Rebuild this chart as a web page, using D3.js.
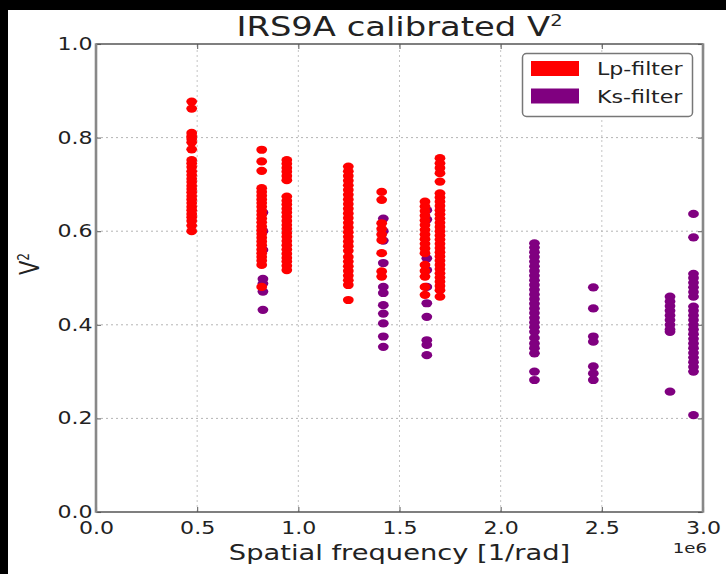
<!DOCTYPE html>
<html>
<head>
<meta charset="utf-8">
<script src="https://cdn.jsdelivr.net/npm/d3@7"></script>
<style>
  html, body { margin: 0; padding: 0; background: #fff; }
  svg { display: block; }
  text { font-family: "DejaVu Sans", sans-serif; fill: #222; }
</style>
</head>
<body>
<script>
// Baseline columns (spatial frequency in units of 1e6 rad^-1) and their V² samples.
const lpFreq = [0.473, 0.819, 0.943, 1.247, 1.412, 1.626, 1.70];
const lpV = [
  [0.877, 0.862, 0.810, 0.803, 0.797, 0.790, 0.775, 0.752, 0.745, 0.737, 0.728, 0.720, 0.712, 0.705, 0.697, 0.690, 0.683, 0.675, 0.668, 0.660, 0.652, 0.645, 0.637, 0.630, 0.622, 0.612, 0.600],
  [0.774, 0.749, 0.729, 0.692, 0.684, 0.676, 0.668, 0.660, 0.652, 0.643, 0.635, 0.627, 0.619, 0.610, 0.602, 0.594, 0.586, 0.578, 0.570, 0.561, 0.553, 0.545, 0.537, 0.528, 0.481],
  [0.752, 0.744, 0.735, 0.727, 0.718, 0.709, 0.674, 0.665, 0.657, 0.648, 0.640, 0.631, 0.622, 0.613, 0.605, 0.596, 0.588, 0.579, 0.570, 0.561, 0.552, 0.543, 0.535, 0.526, 0.517],
  [0.738, 0.728, 0.718, 0.708, 0.698, 0.688, 0.678, 0.668, 0.658, 0.648, 0.638, 0.628, 0.618, 0.608, 0.598, 0.588, 0.578, 0.568, 0.558, 0.545, 0.535, 0.525, 0.515, 0.505, 0.495, 0.485, 0.453],
  [0.684, 0.667, 0.617, 0.605, 0.593, 0.581, 0.553, 0.514, 0.503],
  [0.663, 0.653, 0.643, 0.633, 0.623, 0.613, 0.603, 0.593, 0.583, 0.573, 0.563, 0.553, 0.528, 0.515, 0.503, 0.481, 0.464],
  [0.756, 0.745, 0.735, 0.724, 0.706, 0.681, 0.672, 0.663, 0.654, 0.645, 0.636, 0.627, 0.618, 0.609, 0.600, 0.591, 0.582, 0.573, 0.564, 0.555, 0.546, 0.537, 0.528, 0.519, 0.510, 0.501, 0.492, 0.483, 0.474, 0.460]
];
const ksFreq = [0.825, 1.42, 1.635, 2.167, 2.458, 2.837, 2.953];
const ksV = [
  [0.640, 0.600, 0.560, 0.498, 0.488, 0.471, 0.432],
  [0.627, 0.600, 0.580, 0.532, 0.481, 0.468, 0.442, 0.424, 0.403, 0.375, 0.353],
  [0.645, 0.625, 0.542, 0.517, 0.481, 0.446, 0.417, 0.367, 0.357, 0.335],
  [0.574, 0.565, 0.555, 0.545, 0.535, 0.525, 0.515, 0.505, 0.495, 0.485, 0.475, 0.465, 0.455, 0.445, 0.435, 0.425, 0.415, 0.405, 0.395, 0.385, 0.372, 0.360, 0.350, 0.339, 0.300, 0.282],
  [0.480, 0.435, 0.375, 0.364, 0.311, 0.296, 0.282],
  [0.460, 0.450, 0.440, 0.430, 0.420, 0.410, 0.400, 0.390, 0.385, 0.257],
  [0.637, 0.587, 0.509, 0.500, 0.490, 0.480, 0.470, 0.460, 0.439, 0.430, 0.420, 0.410, 0.400, 0.390, 0.380, 0.370, 0.360, 0.350, 0.340, 0.330, 0.320, 0.310, 0.300, 0.207]
];
const xTicks = [0, 0.5, 1.0, 1.5, 2.0, 2.5, 3.0];
const yTicks = [0, 0.2, 0.4, 0.6, 0.8, 1.0];
const seriesNames = ["Lp-filter", "Ks-filter"];
const seriesColors = ["#ff0000", "#800080"];

const W = 726, H = 574;
const margin = { top: 44, right: 23, bottom: 62, left: 96 };
const SX = 1.3; // horizontal text stretch

const svg = d3.select("body").append("svg").attr("width", W).attr("height", H);
svg.append("rect").attr("width", W).attr("height", H).attr("fill", "#fff");
// dark frame strips along the top and left edges
svg.append("rect").attr("x", 0).attr("y", 0).attr("width", W).attr("height", 10).attr("fill", "#000");
svg.append("rect").attr("x", 0).attr("y", 0).attr("width", 8).attr("height", H).attr("fill", "#000");

const x = d3.scaleLinear().domain([0, 3]).range([margin.left, W - margin.right]);
const y = d3.scaleLinear().domain([0, 1]).range([H - margin.bottom, margin.top]);
const fmt = d3.format(".1f");

// dotted grid
const grid = svg.append("g");
grid.selectAll("line.gx").data(xTicks.slice(1, -1)).join("line")
  .attr("x1", d => x(d)).attr("x2", d => x(d))
  .attr("y1", y(0)).attr("y2", y(1))
  .attr("stroke", "#c4c4c4").attr("stroke-width", 1).attr("stroke-dasharray", "2,3");
grid.selectAll("line.gy").data(yTicks.slice(1, -1)).join("line")
  .attr("x1", x(0)).attr("x2", x(3))
  .attr("y1", d => y(d)).attr("y2", d => y(d))
  .attr("stroke", "#b4b4b4").attr("stroke-width", 1).attr("stroke-dasharray", "2,3");

// points: Ks under Lp
function flatten(freqs, vals) {
  const out = [];
  freqs.forEach((f, i) => vals[i].forEach(v => out.push([f, v])));
  return out;
}
const ksPts = flatten(ksFreq, ksV);
const lpPts = flatten(lpFreq, lpV);
svg.append("g").selectAll("ellipse").data(ksPts).join("ellipse")
  .attr("cx", d => x(d[0])).attr("cy", d => y(d[1]))
  .attr("rx", 5.4).attr("ry", 4.1).attr("fill", seriesColors[1]);
svg.append("g").selectAll("ellipse").data(lpPts).join("ellipse")
  .attr("cx", d => x(d[0])).attr("cy", d => y(d[1]))
  .attr("rx", 5.4).attr("ry", 4.1).attr("fill", seriesColors[0]);

// axes with inward ticks
const xAxis = svg.append("g").attr("transform", `translate(0,${y(0)})`)
  .call(d3.axisBottom(x).tickValues(xTicks).tickFormat(fmt).tickSizeInner(-5).tickSizeOuter(0).tickPadding(10));
const yAxis = svg.append("g").attr("transform", `translate(${x(0)},0)`)
  .call(d3.axisLeft(y).tickValues(yTicks).tickFormat(fmt).tickSizeInner(-5).tickSizeOuter(0).tickPadding(3));
const xTop = svg.append("g").attr("transform", `translate(0,${y(1)})`)
  .call(d3.axisTop(x).tickValues(xTicks).tickFormat("").tickSizeInner(-5).tickSizeOuter(0));
const yRight = svg.append("g").attr("transform", `translate(${x(3)},0)`)
  .call(d3.axisRight(y).tickValues(yTicks).tickFormat("").tickSizeInner(-5).tickSizeOuter(0));
[xAxis, yAxis, xTop, yRight].forEach(g => {
  g.select(".domain").remove();
  g.selectAll(".tick line").attr("stroke", "#666").attr("stroke-width", 1.1);
});
xAxis.selectAll(".tick text").attr("font-size", 17).attr("fill", "#333")
  .style("font-family", "DejaVu Sans").attr("transform", `scale(${SX},1)`);
yAxis.selectAll(".tick text").attr("font-size", 17).attr("fill", "#333")
  .style("font-family", "DejaVu Sans").attr("x", -3.5 / SX).attr("transform", `scale(${SX},1)`);

// spines
svg.append("line").attr("x1", x(0)).attr("x2", x(3)).attr("y1", y(1)).attr("y2", y(1)).attr("stroke", "#555").attr("stroke-width", 1.6);
svg.append("line").attr("x1", x(0)).attr("x2", x(3)).attr("y1", y(0)).attr("y2", y(0)).attr("stroke", "#555").attr("stroke-width", 1.6);
svg.append("line").attr("x1", x(0)).attr("x2", x(0)).attr("y1", y(0) + 0.8).attr("y2", y(1) - 0.8).attr("stroke", "#888").attr("stroke-width", 2.6);
svg.append("line").attr("x1", x(3)).attr("x2", x(3)).attr("y1", y(0) + 0.8).attr("y2", y(1) - 0.8).attr("stroke", "#888").attr("stroke-width", 2.6);

// stretched text helper
function label(px, py, size, anchor, rot) {
  const t = svg.append("text")
    .attr("transform", `translate(${px},${py}) scale(${SX},1)` + (rot ? ` rotate(${rot})` : ""))
    .attr("font-size", size).attr("text-anchor", anchor);
  return t;
}

// title
const title = label((x(0) + x(3)) / 2, 36, 26, "middle");
title.append("tspan").text("IRS9A calibrated V");
title.append("tspan").attr("font-size", 15).attr("dy", -10).text("2");

// axis labels
label((x(0) + x(3)) / 2, 560, 21, "middle").text("Spatial frequency [1/rad]");
const yl = label(39, 264, 21, "middle", -90);
yl.append("tspan").text("V");
yl.append("tspan").attr("font-size", 12).attr("dy", -8).text("2");
label(707, 553, 14, "end").text("1e6");

// legend
const lg = svg.append("g");
lg.append("rect").attr("x", 522.5).attr("y", 53.5).attr("width", 170).attr("height", 63)
  .attr("rx", 4).attr("fill", "#fff").attr("stroke", "#777").attr("stroke-width", 1.5);
seriesNames.forEach((name, i) => {
  const yy = 61 + i * 27.5;
  lg.append("rect").attr("x", 531).attr("y", yy).attr("width", 48).attr("height", 15).attr("fill", seriesColors[i]);
  label(597, yy + 14, 17, "start").text(name);
});
</script>
</body>
</html>
